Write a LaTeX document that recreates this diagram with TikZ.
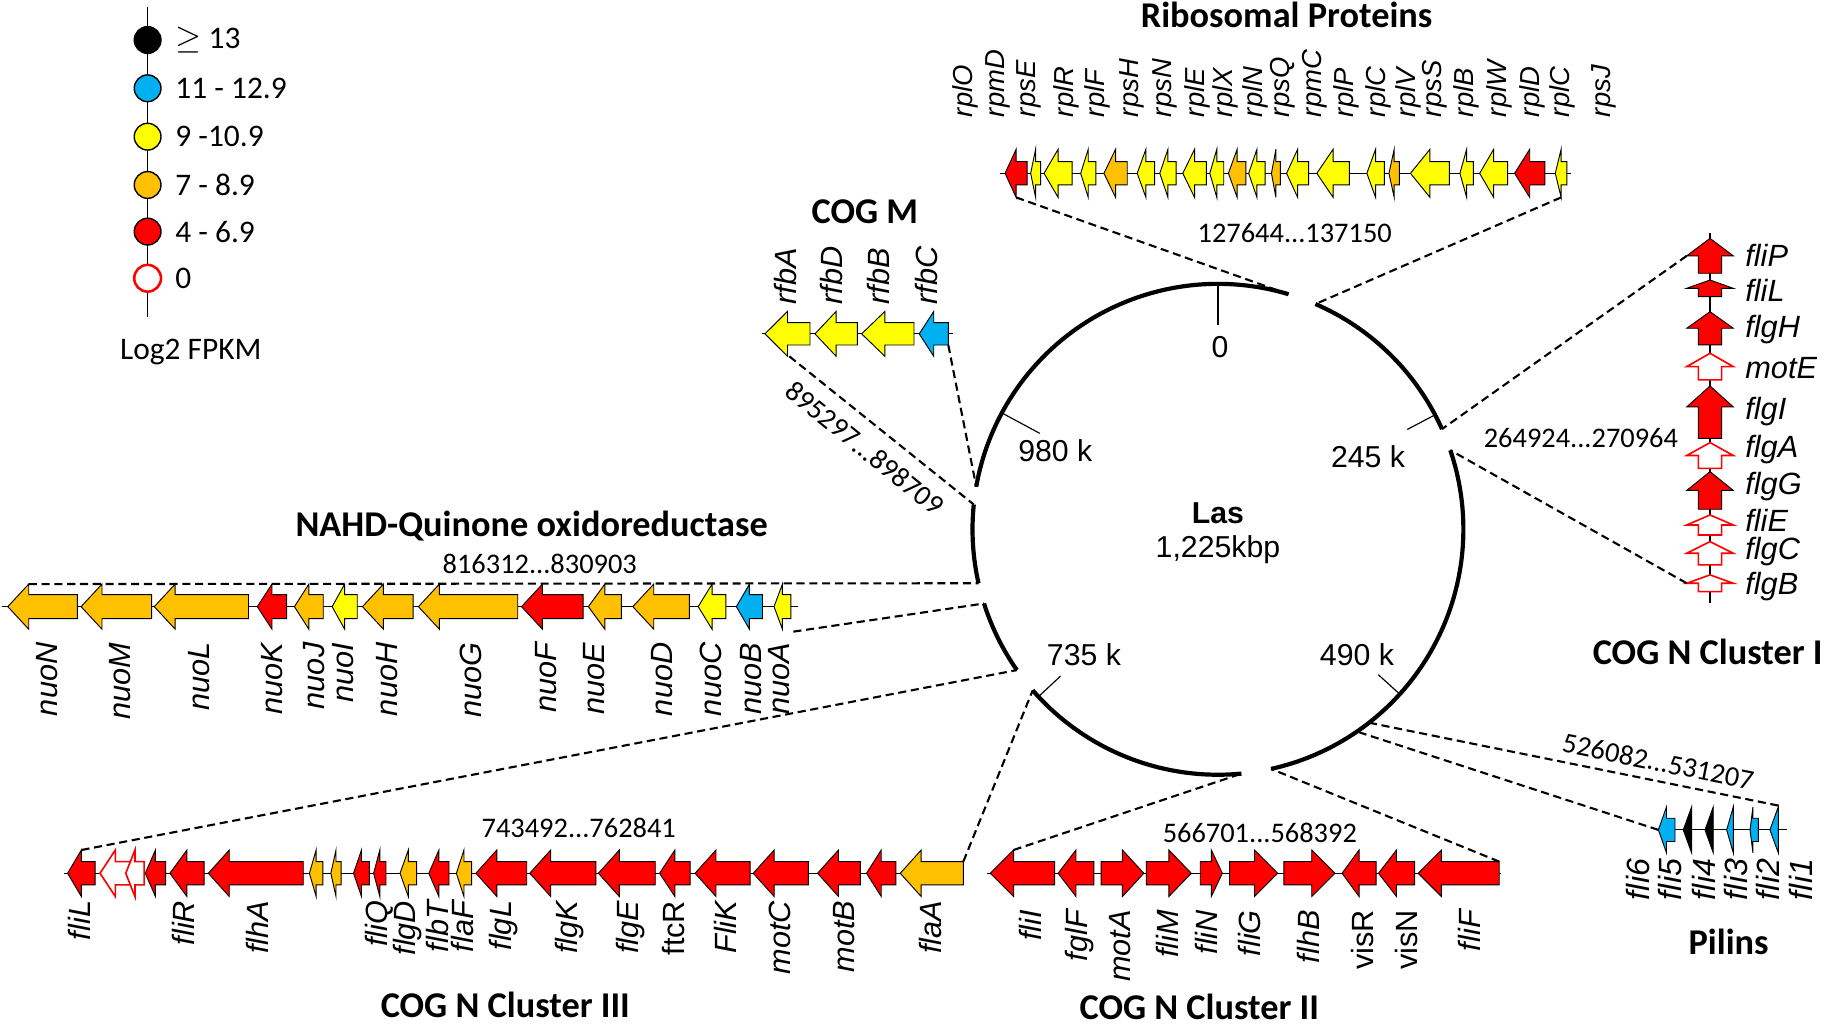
\documentclass[tikz,border=0pt]{standalone}
\usepackage{fontspec}
\setmainfont{Carlito}
\newfontfamily\arialf{Liberation Sans}
\definecolor{gcyan}{HTML}{00B0F0}
\definecolor{gorange}{HTML}{FFC000}
\definecolor{gyellow}{HTML}{FFFF00}
\definecolor{gred}{HTML}{FF0000}
\newcommand\harrow[4][-1]{%
 \pgfmathsetmacro\gLen{(#3)-(#2)}%
 \pgfmathsetmacro\gHl{(#1<0) ? min(\gchl,0.5*abs(\gLen)) : #1}%
 \pgfmathsetmacro\gHb{(#2)+sign(\gLen)*\gHl}%
 \draw[#4] ({#3},{\gcy-\gcbh}) -- (\gHb,{\gcy-\gcbh}) -- (\gHb,{\gcy-\gchh}) -- ({#2},\gcy) -- (\gHb,{\gcy+\gchh}) -- (\gHb,{\gcy+\gcbh}) -- ({#3},{\gcy+\gcbh}) -- cycle;}
\newcommand\varrow[4][-1]{%
 \pgfmathsetmacro\gLen{(#3)-(#2)}%
 \pgfmathsetmacro\gHl{(#1<0) ? min(\gchl,0.5*abs(\gLen)) : #1}%
 \pgfmathsetmacro\gHb{(#2)+sign(\gLen)*\gHl}%
 \draw[#4] ({\gcx-\gcbh},{#3}) -- ({\gcx-\gcbh},\gHb) -- ({\gcx-\gchh},\gHb) -- (\gcx,{#2}) -- ({\gcx+\gchh},\gHb) -- ({\gcx+\gcbh},\gHb) -- ({\gcx+\gcbh},{#3}) -- cycle;}
\def\ccx{1047}\def\ccy{455}\def\ccr{211}
\newcommand\carc[2]{\draw[circ] ({\ccx+\ccr*cos(#1)},{\ccy-\ccr*sin(#1)}) arc[start angle={-(#1)},end angle={-(#2)},radius=\ccr];}
\newcommand\cpt[2]{\coordinate (#1) at ({\ccx+\ccr*cos(#2)},{\ccy-\ccr*sin(#2)});}
\newcommand\ctick[2]{\draw[tickl] ({\ccx+\ccr*cos(#1)},{\ccy-\ccr*sin(#1)}) -- ({\ccx+(\ccr-#2)*cos(#1)},{\ccy-(\ccr-#2)*sin(#1)});}
\tikzset{
 gene/.style={draw=black,line width=0.4pt,line join=miter},
 gR/.style={gene,fill=gred},
 gY/.style={gene,fill=gyellow},
 gO/.style={gene,fill=gorange},
 gC/.style={gene,fill=gcyan},
 gK/.style={gene,fill=black},
 gW/.style={draw=gred,line width=0.7pt,line join=miter,fill=white},
 backbone/.style={line width=0.5pt},
 glab/.style={inner sep=0pt,font=\arialf\itshape\fontsize{13.2}{14}\selectfont,text height=9.5pt,text depth=2.7pt},
 toplab/.style={glab,rotate=90,anchor=west},
 riblab/.style={toplab,font=\arialf\itshape\fontsize{11.8}{12}\selectfont,text height=8.5pt,text depth=2.4pt},
 botlab/.style={glab,rotate=90,anchor=east},
 botlabup/.style={botlab,font=\arialf\fontsize{13.2}{14}\selectfont},
 pillab/.style={botlab,font=\arialf\itshape\fontsize{13.8}{14}\selectfont},
 rlab/.style={glab,anchor=west},
 ttl/.style={inner sep=0pt,font=\bfseries\fontsize{15.6}{17}\selectfont},
 posn/.style={inner sep=0pt,font=\fontsize{12.2}{13}\selectfont},
 circlab/.style={inner sep=0pt,font=\arialf\fontsize{13}{14}\selectfont},
 leglab/.style={inner sep=0pt,anchor=west,font=\fontsize{13.5}{15}\selectfont},
 legdot/.style={circle,inner sep=0pt,minimum size=11.5pt,draw=black,line width=0.6pt},
 conn/.style={line width=0.9pt,dash pattern=on 3.5pt off 2pt},
 circ/.style={line width=1.8pt},
 tickl/.style={line width=0.5pt},
}
\begin{document}
\begin{tikzpicture}[x=0.5pt,y=-0.5pt]
\useasboundingbox (0,0) rectangle (1568,882);
% ---------- legend ----------
\draw[tickl] (126.9,5.7) -- (126.9,272.2);
\node[legdot,fill=black] (lg1) at (126.9,34.4) {};
\node[legdot,fill=gcyan] (lg2) at (126.9,75.9) {};
\node[legdot,fill=gyellow] (lg3) at (126.9,117.5) {};
\node[legdot,fill=gorange] (lg4) at (126.9,159) {};
\node[legdot,fill=gred] (lg5) at (126.9,199.1) {};
\node[legdot,fill=white,draw=gred,line width=1.1pt] (lg6) at (126.9,239.2) {};
\node[leglab] (lt1) at (150.4,34.4) {$\geq$ 13};
\node[leglab] (lt2) at (150.4,75.9) {11 - 12.9};
\node[leglab] (lt3) at (150.4,117.5) {9 -10.9};
\node[leglab] (lt4) at (150.4,159) {7 - 8.9};
\node[leglab] (lt5) at (150.4,199.1) {4 - 6.9};
\node[leglab] (lt6) at (150.4,239.2) {0};
\node[inner sep=0pt,font=\fontsize{13.5}{15}\selectfont] (lt7) at (164,302.3) {Log2 FPKM};
% ---------- genome circle ----------
\carc{73.3}{170}
\carc{174.2}{192.7}
\carc{197.6}{215}
\carc{221}{275.5}
\carc{282.5}{378.8}
\carc{24.1}{66.6}
\ctick{90}{35}
\ctick{27.8}{27}
\ctick{-42.2}{25}
\ctick{223}{26}
\ctick{151.7}{37}
\node[circlab] (t0) at (1048.8,298.7) {0};
\node[circlab] (t980) at (907.2,387.7) {980 k};
\node[circlab] (t245) at (1176,392.3) {245 k};
\node[circlab] (t735) at (931.8,562.7) {735 k};
\node[circlab] (t490) at (1166.5,562.7) {490 k};
\node[circlab,font=\arialf\bfseries\fontsize{13}{14}\selectfont] (las) at (1047,441.5) {Las};
\node[circlab] (size) at (1047,472.2) {1,225kbp};
\cpt{g733}{73.3}\cpt{g666}{66.6}
\cpt{g241}{24.1}\cpt{g188}{18.8}
\cpt{g170}{170}\cpt{g1742}{174.2}
\cpt{g1927}{192.7}\cpt{g1976}{197.6}
\cpt{g215}{215}\cpt{g221}{221}
\cpt{g2755}{275.5}\cpt{g2825}{282.5}
\cpt{g52}{-52}\cpt{g555}{-55.5}
% ---------- ribosomal proteins ----------
\def\gcy{149}\def\gcbh{10}\def\gchh{20.7}\def\gchl{19}
\draw[backbone] (860,\gcy) -- (1350.4,\gcy);
\foreach \t/\e/\s in {864/883/gR,886/894.5/gY,897.5/921.7/gY,929/942/gY,949/969/gO,977.6/992.5/gY,997/1011/gY,1016.8/1037/gY,1040/1052/gY,1056/1071/gO,1073.4/1087.6/gY,1093/1100.6/gO,1106/1125/gY,1132/1160/gY,1175/1190/gY,1194/1203/gO,1212.5/1246/gY,1255/1266.6/gY,1272/1296/gY,1302/1328/gR,1337/1347/gY}{\harrow{\t}{\e}{\s}}
\foreach \x/\g [count=\i] in {830/rplO,857/rpmD,884/rpsE,916.5/rplR,943/rplF,972.5/rpsH,1001/rpsN,1029/rplE,1053.5/rplX,1079/rplN,1102.5/rpsQ,1130/rpmC,1157/rplP,1185/rplC,1211/rplV,1233/rpsS,1261/rplB,1289/rplW,1317/rplD,1343/rplC,1378/rpsJ}{\node[riblab] (rib\i) at (\x,101) {\g};}
\node[ttl] (ribt) at (1106,13) {Ribosomal Proteins};
\node[posn] (ribp) at (1113,200) {127644...137150};
\coordinate (rL) at (873.5,169.7);
\coordinate (rR) at (1342,169.7);
\draw[conn] (rL) -- (g733);
\draw[conn] (rR) -- (g666);
% ---------- COG M ----------
\def\gcy{287}\def\gcbh{9.6}\def\gchh{19.3}\def\gchl{20}
\draw[backbone] (654.7,\gcy) -- (819.5,\gcy);
\foreach \t/\e/\s in {657.6/696.3/gY,700.6/737/gY,740.7/785.7/gY,790.2/815.2/gC}{\harrow{\t}{\e}{\s}}
\foreach \x/\g [count=\i] in {677.6/rfbA,717.8/rfbD,757.9/rfbB,799.4/rfbC}{\node[toplab] (cm\i) at (\x,262) {\g};}
\node[ttl] (cmt) at (743.5,182) {COG M};
\node[posn,rotate=-39] (cmp) at (743.5,385.4) {895297...898709};
\coordinate (mA) at (678.5,306.3);
\coordinate (mC) at (815.2,296.6);
\draw[conn] (mA) -- (g1742);
\draw[conn] (mC) -- (g170);
% ---------- NAHD ----------
\def\gcy{521.5}\def\gcbh{10.3}\def\gchh{19.4}\def\gchl{18}
\draw[backbone] (2,\gcy) -- (685.6,\gcy);
\foreach \t/\e/\s in {6.7/66.5/gO,69.7/130.4/gO,132.6/213.6/gO,221.2/246.4/gR,253.1/277.9/gO,285.5/307.1/gY,311.6/355.2/gO,359.7/445.1/gO,448.3/501.3/gR,505.8/534.1/gO,544/592.6/gO,600.2/624/gY,633/655.5/gC,665.4/679.8/gY}{\harrow{\t}{\e}{\s}}
\foreach \x/\g [count=\i] in {42.7/nuoN,105.7/nuoM,173.1/nuoL,236/nuoK,272/nuoJ,296.7/nuoI,335/nuoH,407/nuoG,472/nuoF,512.5/nuoE,571/nuoD,613.7/nuoC,647.4/nuoB,672/nuoA}{\node[botlab] (nuo\i) at (\x,552) {\g};}
\node[ttl] (nuot) at (457,452) {NAHD-Quinone oxidoreductase};
\node[posn] (nuop) at (464,485) {816312...830903};
\coordinate (nU) at (24.7,502.1);
\coordinate (nL) at (682,543);
\draw[conn] (nU) -- (g1927);
\draw[conn] (nL) -- (g1976);
% ---------- COG N cluster I ----------
\def\gcx{1470}\def\gcbh{10}\def\gchh{20}\def\gchl{18}
\draw[backbone] (\gcx,200.6) -- (\gcx,518.6);
\foreach \t/\e/\s in {204.9/234.9/gR,240.7/255/gR,267.9/296.5/gR,303.7/326.6/gW,331.8/376.8/gR,380.5/402.6/gW,405.4/437.8/gR,442.7/459.9/gW,465.6/485.6/gW,494.2/508.6/gW}{\varrow{\t}{\e}{\s}}
\foreach \yy/\g [count=\i] in {222/fliP,252/fliL,283.6/flgH,319/motE,353.8/flgI,386.8/flgA,418.3/flgG,449.8/fliE,474.2/flgC,504.3/flgB}{\node[rlab] (c1l\i) at (1500,\yy) {\g};}
\node[posn] (c1p) at (1359,376.8) {264924...270964};
\node[ttl] (c1t) at (1468,560) {COG N Cluster I};
\coordinate (c1T) at (1450,219.9);
\coordinate (c1B) at (1450,501.4);
\draw[conn] (c1T) -- (g241);
\draw[conn] (c1B) -- (g188);
% ---------- COG N cluster III ----------
\def\gcy{750.7}\def\gcbh{10}\def\gchh{20}\def\gchl{18}
\draw[backbone] (55.4,\gcy) -- (829,\gcy);
\foreach \t/\e/\s in {58.1/81.8/gR,86/112.3/gW,108.1/123.9/gW,124.9/142.3/gR,146/175.4/gR,179.1/260.7/gR,266/277.5/gO,284.4/293.3/gO,303.9/317.6/gR,321.2/331.8/gR,343.9/358.1/gO,368.6/386/gR,392.3/405.4/gO,409.1/452.8/gR,455.4/512.3/gR,514.4/563.3/gR,567/593.3/gR,597.5/644.9/gR,647.5/694.9/gR,702.8/739.6/gR,744.9/770.2/gR,773.9/828.1/gO}{\harrow{\t}{\e}{\s}}
\foreach \x/\g/\st [count=\i] in {71.2/fliL/botlab,160.7/fliR/botlab,223.9/flhA/botlab,326.5/fliQ/botlab,350.2/flgD/botlab,379.1/flbT/botlab,400.2/flaF/botlab,433.3/flgL/botlab,489.6/flgK/botlab,542.3/flgE/botlab,581.7/ftcR/botlabup,626.5/FliK/botlab,672.8/motC/botlab,728.1/motB/botlab,802.8/flaA/botlab}{\node[\st] (c3l\i) at (\x,774) {\g};}
\node[posn] (c3p) at (497.5,712) {743492...762841};
\node[ttl] (c3t) at (434.4,864) {COG N Cluster III};
\coordinate (c3L) at (70,730.7);
\coordinate (c3R) at (828.1,740.7);
\draw[conn] (c3L) -- (g215);
\draw[conn] (c3R) -- (g221);
% ---------- COG N cluster II ----------
\def\gcy{750.7}\def\gcbh{10}\def\gchh{20}\def\gchl{20}
\draw[backbone] (848.2,\gcy) -- (1290.3,\gcy);
\foreach \t/\e in {851.3/906.6,909.6/940.3,983.3/946.5,1024.1/985.5,1050.8/1031.8,1098.4/1057,1147.6/1103.6,1153.7/1182.9,1185/1216,1219.1/1288.8}{\harrow{\t}{\e}{gR}}
\foreach \x/\g/\st [count=\i] in {888.1/fliI/botlab,928/fglF/botlab,964.9/motA/botlab,1006.3/fliM/botlab,1040.1/fliN/botlab,1077/fliG/botlab,1127.6/flhB/botlab,1173.6/visR/botlabup,1212/visN/botlabup,1265.7/fliF/botlab}{\node[\st] (c2l\i) at (\x,782) {\g};}
\node[posn] (c2p) at (1083,716.4) {566701...568392};
\node[ttl] (c2t) at (1031,866) {COG N Cluster II};
\coordinate (c2L) at (871.3,730.7);
\coordinate (c2R) at (1288.8,740.7);
\draw[conn] (c2L) -- (g2755);
\draw[conn] (c2R) -- (g2825);
% ---------- Pilins ----------
\def\gcy{713.4}\def\gcbh{10}\def\gchh{19.8}\def\gchl{8}
\draw[backbone] (1425.5,\gcy) -- (1535.8,\gcy);
\harrow[7]{1425.6}{1439.9}{gC}
\harrow[7.2]{1447}{1454.2}{gK}
\harrow[7.1]{1465.7}{1472.8}{gK}
\harrow[5.7]{1484.3}{1490}{gC}
\harrow[2.5]{1504.4}{1511.5}{gC}
\harrow[7.2]{1521.5}{1528.7}{gC}
\foreach \x/\g [count=\i] in {1411/fli6,1438.5/fli5,1468/fli4,1495.7/fli3,1523/fli2,1551.6/fli1}{\node[pillab] (pl\i) at (\x,738) {\g};}
\node[posn,rotate=-11.3] (pp) at (1425.5,654.7) {526082...531207};
\node[ttl] (pt) at (1486,810) {Pilins};
\coordinate (pR) at (1528.7,692.5);
\coordinate (pL) at (1425.6,713.4);
\draw[conn] (pR) -- (g52);
\draw[conn] (pL) -- (g555);
\end{tikzpicture}
\end{document}
